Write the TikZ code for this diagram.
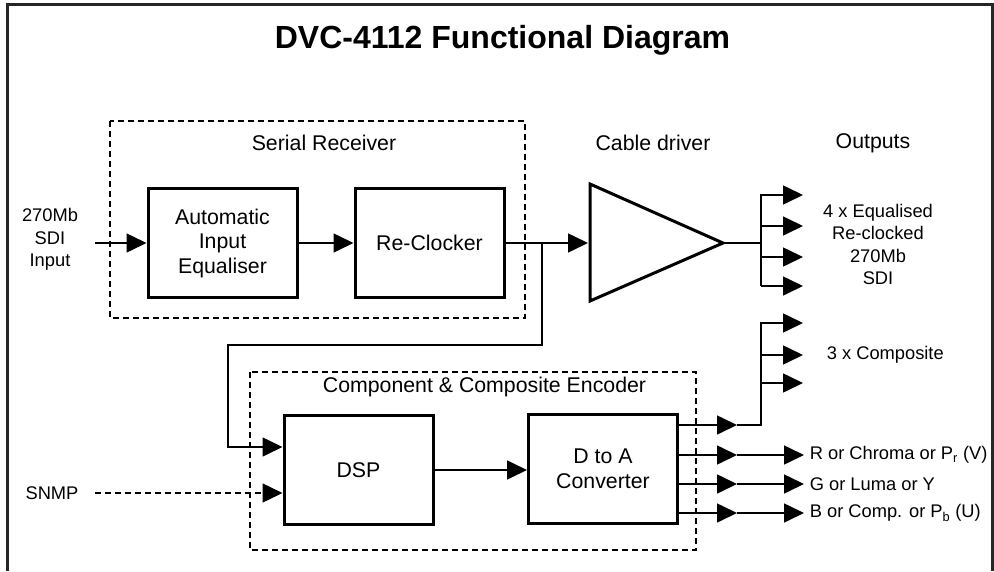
\documentclass[tikz,border=0pt]{standalone}
\usepackage{fontspec}
\setmainfont{Liberation Sans}
\usetikzlibrary{arrows.meta,positioning}
\tikzstyle{block}=[draw,line width=3pt,minimum width=149pt,minimum
height=109pt,align=center,inner sep=0pt]

\begin{document}
\begin{tikzpicture}[x=1pt,y=-1pt,line width=1.6pt,
    >={Triangle[length=20pt,width=19pt]},
    every node/.style={font=\fontsize{21.3}{24.5}\selectfont}]
    \tikzstyle{group}=[draw,line width=1.5pt,dash pattern=on 6pt off 4pt]
    \tikzstyle{small}=[font=\fontsize{18.3}{22.5}\selectfont,align=center]
    \tikzstyle{outname}=[small,anchor=west,inner sep=5pt]
    \useasboundingbox (0,0) rectangle (994,571);

    % frame and title
    \draw[line width=3pt,black!85] (7.5,571) -- (7.5,4.5) -- (992.5,4.5)
    -- (992.5,571);
    \node[font=\fontsize{32}{38}\selectfont\bfseries] (title) at (502.5,40)
    {DVC-4112 Functional Diagram};

    % serial receiver
    \draw[group] (110,121) rectangle (525,318);
    \node (srname) at (324,143) {Serial Receiver};
    \node[small] (sdiin) at (50,239.5) {270Mb\\SDI\\Input};
    \coordinate (inp) at (95,243);
    \node[block] (aie) at (222.5,243) {Automatic\\Input\\Equaliser};
    \node[block] (rck) at (429.5,243) {Re-Clocker};
    \draw[->] (inp) -- (aie);
    \draw[->] (aie) -- (rck);

    % cable driver
    \node (drvname) at (653,143) {Cable driver};
    \draw[line width=3pt] (590,184) -- (723,243) -- (590,301) -- cycle;
    \coordinate (drvin) at (588,243);
    \coordinate (drvout) at (723,243);
    \coordinate (split) at (542,243);
    \draw[->] (rck) -- (drvin);

    % sdi outputs
    \node (outname) at (873,143) {Outputs};
    \node[small] (sdiout) at (878,244.5)
    {4 x Equalised\\Re-clocked\\270Mb\\SDI};
    \coordinate (obus) at (761,243);
    \foreach \y [count=\i] in {195,226,257,286}
    \coordinate (sdi\i) at (803,\y);
    \draw (drvout) -- (obus);
    \draw[->] (obus |- sdi4) -- (obus |- sdi1) -- (sdi1);
    \foreach \i in {2,3,4}
    \draw[->] (obus |- sdi\i) -- (sdi\i);

    % encoder
    \draw[group] (250,372) rectangle (696,550);
    \node (encname) at (484.5,387) {Component \& Composite Encoder};
    \node[block] (dsp) at (358.5,470) {DSP};
    \node[block] (dac) at (603,469) {D to A\\Converter};
    \draw[->] (dsp) -- (dac.west |- dsp.east);
    \coordinate (fb) at (228,345);
    \draw[->] (split) |- (fb) |- ([yshift=23pt]dsp.west);
    \node[small] (snmp) at (52,493) {SNMP};
    \coordinate (snmpout) at (95,493);
    \draw[group,->] (snmpout) -- ([yshift=-23pt]dsp.west);

    % encoder outputs
    \foreach \y [count=\i] in {425,455,484,513}{
      \coordinate (dac\i) at (737,\y);
      \draw[->] (dac.east |- dac\i) -- (dac\i);
    }
    \node[outname] (rout) at (804,455) {R or Chroma or P\textsubscript{r} (V)};
    \node[outname] (gout) at (804,484) {G or Luma or Y};
    \node[outname] (bout) at (804,513) {B or Comp. or P\textsubscript{b} (U)};
    \draw[->] (dac2) -- (rout.west);
    \draw[->] (dac3) -- (gout.west);
    \draw[->] (dac4) -- (bout.west);

    % composite outputs
    \coordinate (cbus) at (761,425);
    \foreach \y [count=\i] in {323,355,383}
    \coordinate (cmp\i) at (803,\y);
    \draw[->] (dac1) -- (cbus) -- (cbus |- cmp1) -- (cmp1);
    \foreach \i in {2,3}
    \draw[->] (cbus |- cmp\i) -- (cmp\i);
    \node[outname] (cmpname) at (821,355) {3 x Composite};
  \end{tikzpicture}
\end{document}
